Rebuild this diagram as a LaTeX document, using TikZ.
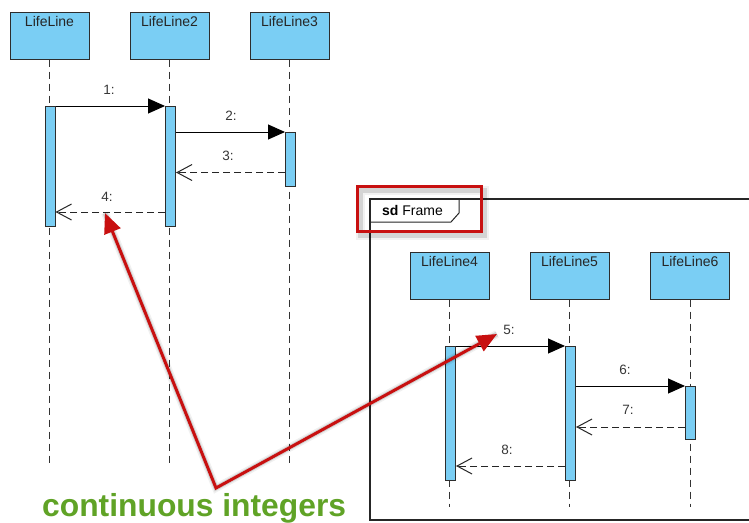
\documentclass[tikz,border=0pt]{standalone}
\usepackage{fontspec}
\setmainfont{Liberation Sans}
\usetikzlibrary{arrows.meta,calc}
\definecolor{llblue}{RGB}{122,206,244}
\definecolor{llborder}{RGB}{45,45,45}
\definecolor{hlred}{RGB}{200,16,16}
\definecolor{txtgreen}{RGB}{96,163,38}
\definecolor{msgtext}{RGB}{55,55,55}
\tikzset{
  head/.style={draw=llborder, line width=1pt, fill=llblue, minimum width=79pt, minimum height=47pt, inner sep=0pt},
  headtext/.style={font=\fontsize{14}{16}\selectfont, text=black!85, inner sep=0pt},
  bar/.style={draw=llborder, line width=1pt, fill=llblue, minimum width=10pt, inner sep=0pt, anchor=north},
  life/.style={draw=black!80, line width=1pt, dash pattern=on 7pt off 5pt},
  callmsg/.style={draw=black, line width=1pt, -{Triangle[length=17pt,width=15pt]}},
  retmsg/.style={draw=black!85, line width=1pt, dash pattern=on 7pt off 4pt, -{Straight Barb[length=15pt,width=16pt,line width=1pt]}},
  msglabel/.style={font=\fontsize{13.5}{15}\selectfont, text=msgtext},
  redline/.style={draw=hlred, line width=3pt},
  shadowline/.style={draw=black, line width=5pt, opacity=0.12},
}
\begin{document}
\begin{tikzpicture}[x=1pt,y=-1pt]
\useasboundingbox[fill=white] (0,0) rectangle (749,522);

% frame
\coordinate (fbl) at (370,520);
\coordinate (ftl) at (370,199);
\draw[black!85, line width=1.2pt] (753,520) -- (fbl) -- (ftl) -- (753,199);
\coordinate (tab1) at (370,222);
\coordinate (tab2) at (451,222);
\coordinate (tab3) at (459,213);
\coordinate (tab4) at (459,199);
\draw[black!85, line width=1pt] (tab1) -- (tab2) -- (tab3) -- (tab4);
\node[anchor=west, font=\fontsize{14}{16}\selectfont, inner sep=0pt] (ftitle) at (382,210.5) {\textbf{sd} Frame};

% heads
\node[head, label={[headtext, anchor=north, yshift=-5pt]north:LifeLine}] (h1) at (49.5,35.5) {};
\node[head, label={[headtext, anchor=north, yshift=-5pt]north:LifeLine2}] (h2) at (169.5,35.5) {};
\node[head, label={[headtext, anchor=north, yshift=-5pt]north:LifeLine3}] (h3) at (289.5,35.5) {};
\node[head, label={[headtext, anchor=north, yshift=-5pt]north:LifeLine4}] (h4) at (449.5,275.5) {};
\node[head, label={[headtext, anchor=north, yshift=-5pt]north:LifeLine5}] (h5) at (569.5,275.5) {};
\node[head, label={[headtext, anchor=north, yshift=-5pt]north:LifeLine6}] (h6) at (690,275.5) {};

% lifelines
\coordinate (e1) at (49.5,467);
\coordinate (e2) at (169.5,467);
\coordinate (e3) at (289.5,467);
\coordinate (e4) at (449.5,507);
\coordinate (e5) at (569.5,507);
\coordinate (e6) at (690,507);
\foreach \i in {1,...,6} { \draw[life] (h\i.south) -- (e\i); }

% activation bars
\node[bar, minimum height=120pt] (a1) at (50,106) {};
\node[bar, minimum height=120pt] (a2) at (170.5,106) {};
\node[bar, minimum height=54pt] (a3) at (290.5,132) {};
\node[bar, minimum height=134pt] (a4) at (450.5,346) {};
\node[bar, minimum height=134pt] (a5) at (570.5,346) {};
\node[bar, minimum height=53pt] (a6) at (690.5,386) {};

% messages
\draw[callmsg] (a1.north east) -- (a2.north west);
\node[msglabel] (m1) at (109,90) {1:};
\draw[callmsg] (a3.north west -| a2.east) -- (a3.north west);
\node[msglabel] (m2) at (231,116) {2:};
\coordinate (r3) at ($(a3.west)+(0,13)$);
\draw[retmsg] (r3) -- (r3 -| a2.east);
\node[msglabel] (m3) at (228,156) {3:};
\coordinate (r4) at (a2.west |- 0,212);
\draw[retmsg] (r4) -- (r4 -| a1.east);
\node[msglabel] (m4) at (107,197) {4:};

\draw[callmsg] (a4.north east) -- (a5.north west);
\node[msglabel] (m5) at (509,330) {5:};
\draw[callmsg] (a6.north west -| a5.east) -- (a6.north west);
\node[msglabel] (m6) at (625,370) {6:};
\coordinate (r7) at (a6.west |- 0,427);
\draw[retmsg] (r7) -- (r7 -| a5.east);
\node[msglabel] (m7) at (628,410) {7:};
\coordinate (r8) at (a5.west |- 0,466);
\draw[retmsg] (r8) -- (r8 -| a4.east);
\node[msglabel] (m8) at (507,450) {8:};

% red highlight box with shadow
\coordinate (hb1) at (357,186);
\coordinate (hb2) at (481,231);
\draw[shadowline] ($(hb1)+(3,4)$) rectangle ($(hb2)+(3,4)$);
\draw[black, line width=9pt, opacity=0.05] ($(hb1)+(3,4)$) rectangle ($(hb2)+(3,4)$);
\draw[redline] (hb1) rectangle (hb2);

% red arrows with shadow
\coordinate (vtx) at (216,488);
\coordinate (tipA) at (105,213);
\coordinate (tipB) at (497,334);
\begin{scope}[shift={(4,5)}]
  \draw[shadowline] (tipA) -- (vtx) -- (tipB);
  \draw[black, line width=8pt, opacity=0.06] (tipA) -- (vtx) -- (tipB);
\end{scope}
\draw[redline, line join=miter, {Triangle[length=20pt,width=17pt]}-{Triangle[length=20pt,width=17pt]}] (tipA) -- (vtx) -- (tipB);

% caption
\node[anchor=base west, inner sep=0pt, font=\fontsize{31.8}{34}\bfseries, text=txtgreen] (cap) at (42,516) {continuous integers};
\end{tikzpicture}
\end{document}
